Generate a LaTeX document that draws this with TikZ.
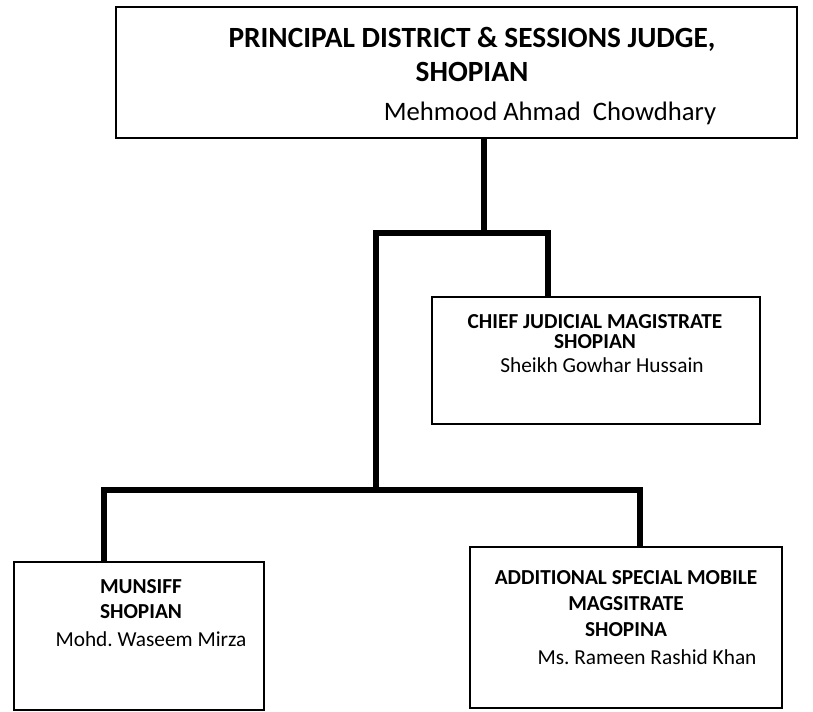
\documentclass[tikz,border=0pt]{standalone}
\usepackage{fontspec}
\setmainfont{Carlito}
\begin{document}
\begin{tikzpicture}[x=0.75pt,y=-0.75pt]
\tikzset{box/.style={draw,line width=1.6pt,inner sep=0pt},
  link/.style={line width=4pt},
  post/.style 2 args={font=\bfseries\fontsize{#1}{#2}\selectfont,align=center,inner sep=0pt},
  holder/.style={font=\fontsize{#1}{#1}\selectfont,inner sep=0pt}}
\useasboundingbox (0,0) rectangle (813,712);

% boxes
\node[box,minimum width=510.75pt,minimum height=98.25pt] (pdsj) at (456.5,72.5) {};
\node[box,minimum width=246pt,minimum height=95.25pt] (cjm) at (596,360.5) {};
\node[box,minimum width=187.5pt,minimum height=111pt] (munsiff) at (139,636) {};
\node[box,minimum width=234pt,minimum height=120.75pt] (asmm) at (626,627.5) {};

% texts
\node[post={22}{25.5}] (pdsjpost) at (472,54) {PRINCIPAL DISTRICT \& SESSIONS JUDGE,\\SHOPIAN};
\node[holder=20] (pdsjname) at (550,113) {Mehmood Ahmad\ \ Chowdhary};
\node[post={16}{15}] (cjmpost) at (595,332) {CHIEF JUDICIAL MAGISTRATE\\SHOPIAN};
\node[holder=16] (cjmname) at (602,365) {Sheikh Gowhar Hussain};
\node[post={16}{19}] (munsiffpost) at (141,599) {MUNSIFF\\SHOPIAN};
\node[holder=16] (munsiffname) at (151,639) {Mohd.\ Waseem Mirza};
\node[post={16}{19.5}] (asmmpost) at (626,604) {ADDITIONAL SPECIAL MOBILE\\MAGSITRATE\\SHOPINA};
\node[holder=16] (asmmname) at (647,657) {Ms.\ Rameen Rashid Khan};

% connectors
\coordinate (top) at (484,233);
\coordinate (topl) at (376,233);
\coordinate (topr) at (548,233);
\coordinate (low) at (376,490);
\coordinate (lowl) at (104,490);
\coordinate (lowr) at (640,490);
\draw[link] (pdsj.south -| top) -- (top);
\draw[link] (low) -- (topl) -- (topr) -- (cjm.north -| topr);
\draw[link] (munsiff.north -| lowl) -- (lowl) -- (lowr) -- (asmm.north -| lowr);
\end{tikzpicture}
\end{document}
